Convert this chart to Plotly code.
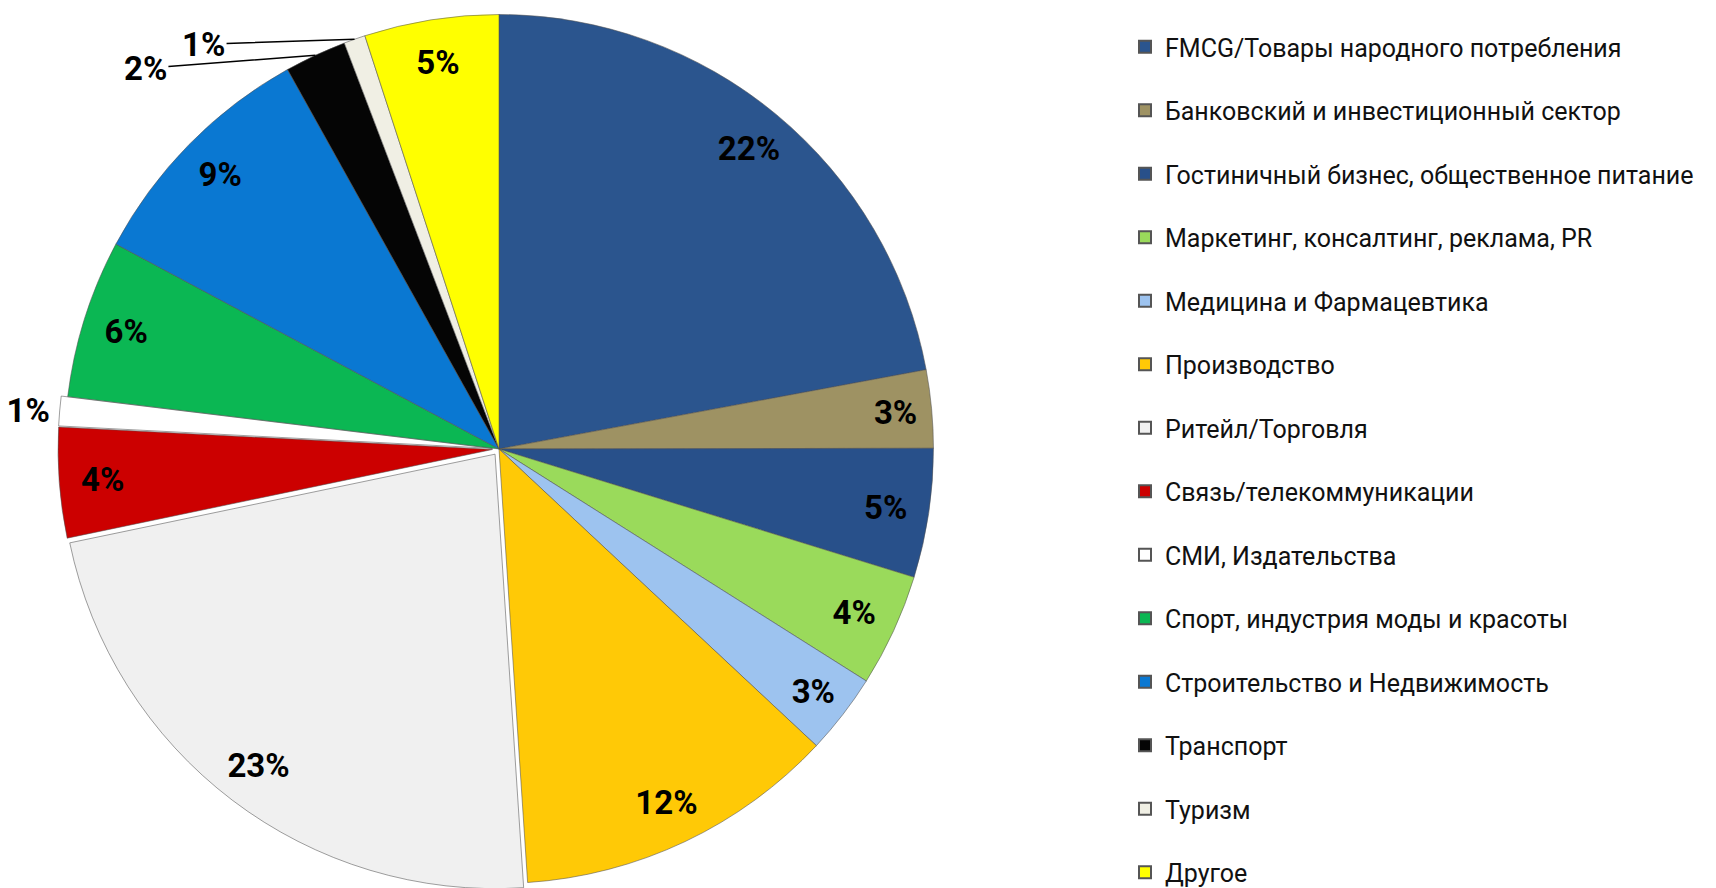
import math
import plotly.graph_objects as go

labels = [
    "FMCG/Товары народного потребления",
    "Банковский и инвестиционный сектор",
    "Гостиничный бизнес, общественное питание",
    "Маркетинг, консалтинг, реклама, PR",
    "Медицина и Фармацевтика",
    "Производство",
    "Ритейл/Торговля",
    "Связь/телекоммуникации",
    "СМИ, Издательства",
    "Спорт, индустрия моды и красоты",
    "Строительство и Недвижимость",
    "Транспорт",
    "Туризм",
    "Другое",
]
values = [22.1, 2.9, 4.8, 4.2, 3.0, 12.0, 22.8, 4.1, 1.1, 5.9, 9.1, 2.3, 0.8, 5.0]
colors = [
    "#2B558E", "#9E9263", "#28508A", "#9ADA5B", "#9DC3EF", "#FFC906", "#F0F0F0",
    "#CC0000", "#FFFFFF", "#0BB753", "#0A78D2", "#050505", "#F0EFE4", "#FFFF00",
]
pulls = [0, 0, 0, 0, 0, 0, 0.015, 0.015, 0.015, 0, 0, 0, 0, 0]
textpos = ["inside"] * 8 + ["outside", "inside", "inside", "none", "none", "inside"]
# labels drawn with leader lines (slice index -> label offset in px)
leader = {11: (-170, 13), 12: (-151, 5)}

W, H = 1716, 888
LABEL_SIZE = 33
label_font = dict(family="Roboto", size=LABEL_SIZE, color="black", weight="bold")
dom_x = [0, 982 / W]
dom_y = [0.0068, 1.0]
pie_domain = dict(x=dom_x, y=dom_y)

fig = go.Figure()
fig.add_trace(go.Pie(
    labels=labels, values=values, sort=False, direction="clockwise", rotation=0,
    pull=pulls,
    marker=dict(colors=colors, line=dict(color="rgba(80,80,80,0.55)", width=1)),
    textinfo="none",
    domain=pie_domain, showlegend=False, hoverinfo="label+percent",
))
fig.add_trace(go.Pie(
    labels=labels, values=values, sort=False, direction="clockwise", rotation=0,
    pull=pulls, hole=0.8,
    marker=dict(colors=["rgba(0,0,0,0)"] * len(labels), line=dict(width=0)),
    texttemplate="%{percent:.0%}",
    textposition=textpos,
    insidetextorientation="horizontal",
    textfont=label_font, outsidetextfont=label_font,
    domain=pie_domain, showlegend=False, hoverinfo="skip",
))

# leader-line labels for the thin slices at the top, anchored on each slice's rim
total = sum(values)
cx = (dom_x[0] + dom_x[1]) / 2
cy = (dom_y[0] + dom_y[1]) / 2
r_px = min((dom_x[1] - dom_x[0]) * W, (dom_y[1] - dom_y[0]) * H) / 2 / (1 + max(pulls))
cum = 0.0
for i, v in enumerate(values):
    if i in leader:
        theta = 2 * math.pi * (cum + v / 2) / total
        ax, ay = leader[i]
        fig.add_annotation(
            x=cx + r_px * math.sin(theta) / W, y=cy + r_px * math.cos(theta) / H,
            xref="paper", yref="paper",
            text=f"{round(v / total * 100)}%", font=label_font,
            showarrow=True, arrowhead=0, arrowwidth=1.5, arrowcolor="black",
            ax=ax, ay=ay, standoff=0,
        )
    cum += v

for i, (lab, col) in enumerate(zip(labels, colors)):
    fig.add_trace(go.Scatter(
        x=[None], y=[None], mode="markers", name=lab,
        marker=dict(symbol="square", size=12, color=col, line=dict(color="#555555", width=1)),
        legendgroup=f"g{i}", showlegend=True,
    ))

fig.update_layout(
    width=W, height=H,
    margin=dict(l=0, r=0, t=0, b=0, autoexpand=False),
    paper_bgcolor="white", plot_bgcolor="white",
    xaxis=dict(visible=False), yaxis=dict(visible=False),
    uniformtext=dict(minsize=LABEL_SIZE, mode="show"),
    legend=dict(
        x=1117 / W, xanchor="left", y=1 - 16 / H, yanchor="top",
        font=dict(family="Roboto", size=25, color="#111111"),
        tracegroupgap=28, itemsizing="constant",
        bgcolor="rgba(0,0,0,0)",
    ),
)

fig.write_html("out.html")
